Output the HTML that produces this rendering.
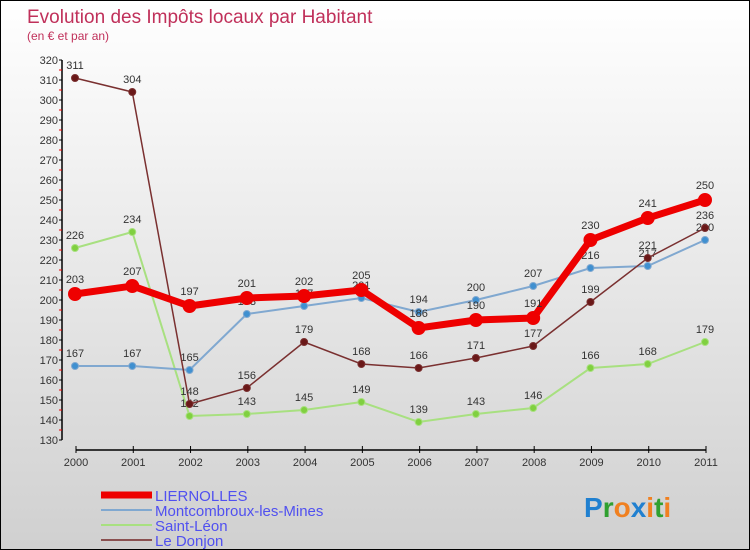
<!DOCTYPE html>
<html><head><meta charset="utf-8">
<style>
html,body{margin:0;padding:0}
body{width:750px;height:550px;overflow:hidden;font-family:"Liberation Sans",sans-serif}
#wrap{position:relative;width:748px;height:548px;border:1px solid #000;background:linear-gradient(#fff,#d0d0d0)}
svg{position:absolute;left:0;top:0}
</style></head><body>
<div id="wrap">
<svg id="chart" width="748" height="548"></svg>
</div>
<script>
const years=[2000,2001,2002,2003,2004,2005,2006,2007,2008,2009,2010,2011];
const liernolles=[203,207,197,201,202,205,186,190,191,230,241,250];
const montcombroux=[167,167,165,193,197,201,194,200,207,216,217,230];
const saintLeon=[226,234,142,143,145,149,139,143,146,166,168,179];
const leDonjon=[311,304,148,156,179,168,166,171,177,199,221,236];
const yTicks=[130,140,150,160,170,180,190,200,210,220,230,240,250,260,270,280,290,300,310,320];
const seriesNames=["LIERNOLLES","Montcombroux-les-Mines","Saint-Léon","Le Donjon"];

const NS="http://www.w3.org/2000/svg";
const svg=document.getElementById('chart');
const X=i=>74+i*(630/11);
const Y=v=>439-(v-130)*2;
function mk(tag,attrs,parent){const e=document.createElementNS(NS,tag);for(const k in attrs)e.setAttribute(k,attrs[k]);(parent||svg).appendChild(e);return e;}
function txt(s,attrs){const t=mk('text',attrs);t.textContent=s;return t;}

let t=txt("Evolution des Impôts locaux par Habitant",{x:26,y:22,'font-size':19,fill:'#c0305a'});

t=txt("(en € et par an)",{x:26,y:39,'font-size':12,fill:'#c0305a'});


// y axis
let a=mk('line',{x1:61,y1:Y(320),x2:61,y2:Y(130),stroke:'#000','stroke-width':1.5});

yTicks.forEach(v=>{
  mk('line',{x1:58,x2:61,y1:Y(v),y2:Y(v),stroke:'#000'});
  if(v<320) mk('line',{x1:58,x2:61,y1:Y(v+5),y2:Y(v+5),stroke:'#e00'});
  const l=txt(v,{x:57,y:Y(v)+4,'font-size':11,fill:'#333','text-anchor':'end'});
  
});
// x axis
a=mk('line',{x1:X(0)+1,y1:449,x2:X(11)+1,y2:449,stroke:'#000','stroke-width':1.5});

years.forEach((yr,i)=>{
  mk('line',{x1:X(i)+1,x2:X(i)+1,y1:445,y2:452,stroke:'#000'});
  const l=txt(yr,{x:X(i)+1,y:465,'font-size':11,fill:'#333','text-anchor':'middle'});
  
});

function series(data,color,w,r,dot,name,labelDy){
  const g=mk('g',{});
  
  const p=mk('polyline',{points:data.map((v,i)=>X(i)+','+Y(v)).join(' '),fill:'none',stroke:color,'stroke-width':w},g);
  data.forEach((v,i)=>{
    const c=mk('circle',{cx:X(i),cy:Y(v),r:r,fill:dot,stroke:color,'stroke-width':1},g);
    
    const l=mk('text',{x:X(i),y:Y(v)-labelDy,'font-size':11,fill:'#333','text-anchor':'middle'},g);
    l.textContent=v;
    
  });
}
series(saintLeon,'#a8e080',2,3.5,'#80d040','saint-leon',9);
series(montcombroux,'#80a8d0',2,3.5,'#4090d0','montcombroux',9);
series(leDonjon,'#7a3030',1.5,3.5,'#6a1818','le-donjon',9);
series(liernolles,'#ee0000',7,6.5,'#ee0000','liernolles',11);

// legend
const lc=[['#ee0000',7],['#80a8d0',2],['#a8e080',2],['#8a5050',2]];
seriesNames.forEach((n,i)=>{
  const y=494+i*15;
  const g=mk('g',{});
  
  mk('line',{x1:100,x2:151,y1:y,y2:y,stroke:lc[i][0],'stroke-width':lc[i][1]},g);
  const l=mk('text',{x:154,y:y+6,'font-size':15,fill:'#5050f0'},g);l.textContent=n;
});
// logo
const logo=mk('text',{x:583,y:516,'font-size':28,'font-weight':'bold'});

[['P','#2080d0'],['r','#30a030'],['o','#f08020'],['x','#2080d0'],['i','#f08020'],['t','#30a030'],['i','#f08020']].forEach(([c,col])=>{
  const s=mk('tspan',{fill:col},logo);s.textContent=c;
});
</script>
</body></html>
